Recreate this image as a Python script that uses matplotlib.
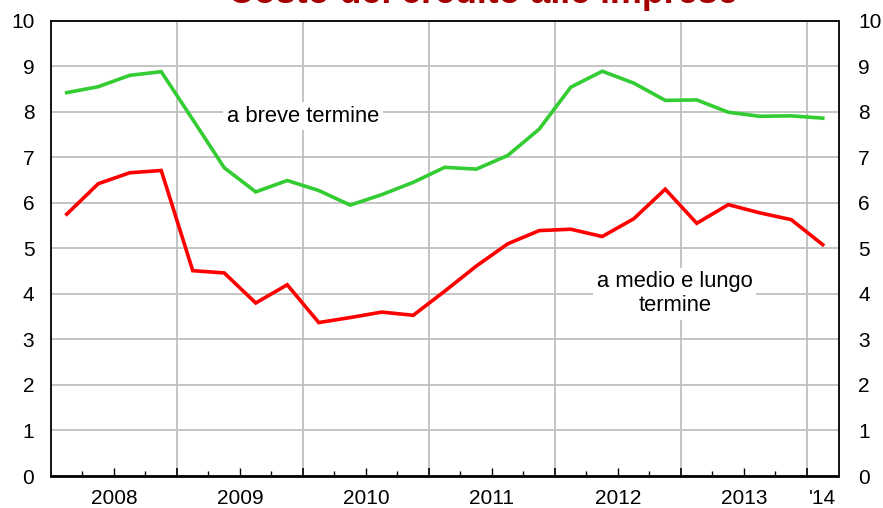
import matplotlib
matplotlib.use("Agg")
import matplotlib.pyplot as plt
from matplotlib.ticker import FixedLocator, NullFormatter
import matplotlib.transforms as mtransforms

plt.rcParams['font.family'] = ['Liberation Sans', 'DejaVu Sans']

# quarterly observations, Q1 2008 .. Q1 2014 (placed at mid-quarter)
quarters = [2008.125 + 0.25 * i for i in range(25)]
breve = [8.42, 8.55, 8.80, 8.88, 7.83, 6.77, 6.24, 6.49, 6.27, 5.95,
         6.18, 6.45, 6.78, 6.74, 7.04, 7.62, 8.54, 8.89, 8.63, 8.25,
         8.26, 7.99, 7.90, 7.91, 7.86]
medio_lungo = [5.75, 6.42, 6.66, 6.71, 4.51, 4.46, 3.80, 4.20, 3.37, 3.48,
               3.60, 3.53, 4.06, 4.61, 5.10, 5.39, 5.42, 5.26, 5.65, 6.30,
               5.55, 5.96, 5.78, 5.63, 5.08]
year_labels = ['2008', '2009', '2010', '2011', '2012', '2013', "'14"]
year_label_pos = [2008.5, 2009.5, 2010.5, 2011.5, 2012.5, 2013.5, 2014.125]
title = 'Costo del credito alle imprese'

W, H = 883, 508
fig = plt.figure(figsize=(W / 100, H / 100), dpi=100)
L, R, T, B = 51, 838.5, 20.7, 476
ax = fig.add_axes([L / W, (H - B) / H, (R - L) / W, (B - T) / H])

ax.plot(quarters, breve, color='#33CC33', lw=2.6, solid_joinstyle='miter', zorder=3)
ax.plot(quarters, medio_lungo, color='#FF0000', lw=2.6, solid_joinstyle='miter', zorder=3)

ax.set_xlim(2008.0, 2014.25)
ax.set_ylim(0, 10)

# y axis
ax.set_yticks(range(0, 11))
ax.tick_params(axis='y', length=0, labelsize=15, left=False, right=False,
               labelleft=True, labelright=True, pad=12)
for t in ax.yaxis.get_major_ticks():
    t.label2.set_transform(t.label2.get_transform() +
                           mtransforms.ScaledTranslation(3 / 100, 0, fig.dpi_scale_trans))

# x axis: year boundaries with gridlines, quarter minor ticks
years = [2009, 2010, 2011, 2012, 2013, 2014]
ax.xaxis.set_major_locator(FixedLocator(years))
ax.xaxis.set_major_formatter(NullFormatter())
minor = [y + q for y in range(2008, 2015) for q in (0.25, 0.75)]
minor = [m for m in minor if m < 2014.25]
ax.xaxis.set_minor_locator(FixedLocator(minor))
ax.tick_params(axis='x', which='major', direction='in', length=6, width=1.2, color='black')
ax.tick_params(axis='x', which='minor', direction='in', length=3.5, width=1.0, color='black')

sec = ax.secondary_xaxis('bottom')
sec.set_xticks([2008.5, 2009.5, 2010.5, 2011.5, 2012.5, 2013.5])
sec.set_xticklabels([])
sec.tick_params(direction='in', length=6, width=1.0, color='black')
sec.spines['bottom'].set_visible(False)

for x, lab in zip(year_label_pos, year_labels):
    ax.text(x, -0.049, lab, transform=ax.get_xaxis_transform(), ha='center', va='center',
            fontsize=15)

ax.grid(True, which='major', color='#BFBFBF', lw=1.3, zorder=0)
ax.set_axisbelow(True)

for s in ('left', 'right', 'top'):
    ax.spines[s].set_linewidth(1.3)
    ax.spines[s].set_color('black')
ax.spines['bottom'].set_linewidth(2.0)

# labels
ax.text(2010.0, 7.9, 'a breve termine', ha='center', va='center', fontsize=15.8,
        bbox=dict(facecolor='white', edgecolor='none', pad=2.5), zorder=4)
ax.text(2012.95, 4.0, 'a medio e lungo\ntermine', ha='center', va='center', fontsize=15.8,
        linespacing=1.2, bbox=dict(facecolor='white', edgecolor='none', pad=2.5), zorder=4)

fig.text(483 / W, 1 - 3.0 / H, title, ha='center', va='baseline', fontsize=25.8,
         fontweight='bold', color='#A50000')

fig.savefig('out.png', dpi=100)
